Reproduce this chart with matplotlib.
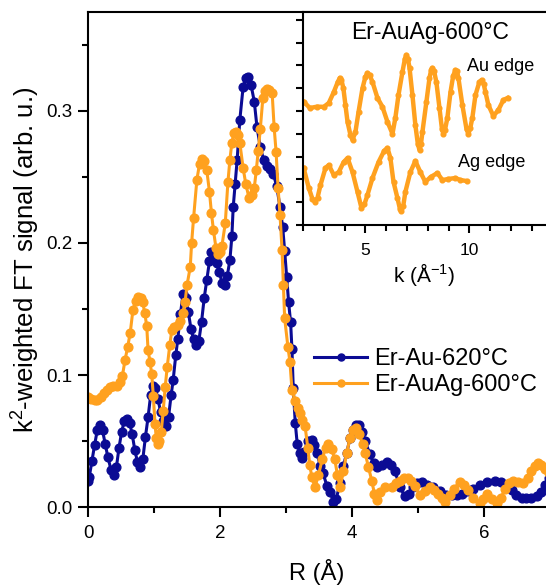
import numpy as np
import matplotlib
matplotlib.use("Agg")
import matplotlib.pyplot as plt
from matplotlib.ticker import MultipleLocator, FormatStrFormatter

plt.rcParams['font.family'] = ['Liberation Sans', 'DejaVu Sans']
plt.rcParams['mathtext.fontset'] = 'custom'
plt.rcParams['mathtext.rm'] = 'Liberation Sans'
plt.rcParams['mathtext.default'] = 'regular'

# FT magnitude, Er-Au-620°C (R in Å, signal in arb. u.)
r_au = [0.00, 0.02, 0.06, 0.10, 0.14, 0.18, 0.22, 0.26, 0.30, 0.35, 0.39, 0.43, 0.47, 0.51,
        0.55, 0.59, 0.63, 0.67, 0.71, 0.75, 0.79, 0.83, 0.87, 0.91, 0.95, 0.98, 1.02, 1.06,
        1.10, 1.14, 1.18, 1.22, 1.26, 1.29, 1.33, 1.36, 1.40, 1.44, 1.48, 1.52, 1.56, 1.60,
        1.64, 1.68, 1.72, 1.76, 1.80, 1.84, 1.87, 1.91, 1.95, 1.99, 2.03, 2.07, 2.11, 2.15,
        2.18, 2.20, 2.23, 2.26, 2.30, 2.35, 2.39, 2.43, 2.47, 2.52, 2.56, 2.61, 2.66, 2.71,
        2.76, 2.81, 2.86, 2.91, 2.95, 2.98, 3.01, 3.04, 3.07, 3.09, 3.11, 3.14, 3.17, 3.21,
        3.24, 3.28, 3.33, 3.39, 3.43, 3.47, 3.52, 3.56, 3.62, 3.67, 3.72, 3.76, 3.82, 3.87,
        3.92, 3.97, 4.02, 4.06, 4.10, 4.15, 4.20, 4.27, 4.33, 4.38, 4.45, 4.53, 4.59, 4.65,
        4.73, 4.80, 4.86, 4.92, 4.99, 5.06, 5.14, 5.23, 5.33, 5.43, 5.51, 5.59, 5.67, 5.74,
        5.84, 5.94, 6.05, 6.17, 6.26, 6.34, 6.42, 6.49, 6.57, 6.64, 6.72, 6.80, 6.86, 6.92,
        6.98]
ft_au = [0.020, 0.023, 0.035, 0.047, 0.058, 0.062, 0.058, 0.048, 0.038, 0.028, 0.024, 0.030,
         0.045, 0.057, 0.065, 0.067, 0.064, 0.055, 0.043, 0.034, 0.030, 0.036, 0.053, 0.068,
         0.085, 0.092, 0.090, 0.082, 0.072, 0.065, 0.061, 0.068, 0.085, 0.096, 0.115, 0.127,
         0.146, 0.161, 0.158, 0.148, 0.135, 0.127, 0.123, 0.126, 0.140, 0.158, 0.172, 0.186,
         0.193, 0.192, 0.185, 0.178, 0.170, 0.168, 0.175, 0.187, 0.205, 0.227, 0.245, 0.263,
         0.293, 0.318, 0.325, 0.326, 0.320, 0.307, 0.288, 0.273, 0.263, 0.258, 0.256, 0.252,
         0.243, 0.227, 0.212, 0.194, 0.174, 0.155, 0.140, 0.120, 0.090, 0.064, 0.048, 0.041,
         0.037, 0.042, 0.050, 0.051, 0.047, 0.041, 0.031, 0.026, 0.016, 0.011, 0.004, 0.006,
         0.018, 0.031, 0.041, 0.052, 0.058, 0.062, 0.062, 0.057, 0.050, 0.040, 0.033, 0.030,
         0.032, 0.034, 0.032, 0.027, 0.015, 0.008, 0.010, 0.015, 0.018, 0.019, 0.017, 0.015,
         0.012, 0.009, 0.009, 0.009, 0.010, 0.012, 0.014, 0.017, 0.019, 0.020, 0.019, 0.017,
         0.013, 0.009, 0.007, 0.007, 0.007, 0.008, 0.011, 0.017, 0.022]

# FT magnitude, Er-AuAg-600°C
r_auag = [0.00, 0.05, 0.10, 0.14, 0.19, 0.24, 0.29, 0.33, 0.38, 0.44, 0.48, 0.52, 0.56, 0.60,
          0.64, 0.68, 0.72, 0.76, 0.80, 0.83, 0.86, 0.89, 0.91, 0.94, 0.965, 0.99, 1.015, 1.035,
          1.056, 1.08, 1.11, 1.14, 1.17, 1.20, 1.24, 1.27, 1.31, 1.36, 1.40, 1.44, 1.47, 1.50,
          1.55, 1.57, 1.60, 1.65, 1.69, 1.72, 1.76, 1.80, 1.84, 1.87, 1.90, 1.94, 1.97, 2.00,
          2.03, 2.08, 2.12, 2.15, 2.18, 2.21, 2.24, 2.27, 2.30, 2.35, 2.39, 2.44, 2.48, 2.52,
          2.55, 2.58, 2.61, 2.65, 2.68, 2.71, 2.75, 2.79, 2.82, 2.85, 2.88, 2.91, 2.94, 2.96,
          2.98, 3.03, 3.06, 3.09, 3.14, 3.18, 3.21, 3.25, 3.29, 3.33, 3.36, 3.39, 3.44, 3.49,
          3.55, 3.60, 3.64, 3.69, 3.74, 3.78, 3.82, 3.87, 3.92, 3.97, 4.02, 4.06, 4.11, 4.16,
          4.20, 4.25, 4.30, 4.34, 4.38, 4.42, 4.50, 4.60, 4.67, 4.73, 4.79, 4.85, 4.90, 4.95,
          5.03, 5.10, 5.18, 5.25, 5.31, 5.36, 5.41, 5.48, 5.54, 5.64, 5.70, 5.76, 5.84, 5.94,
          5.99, 6.04, 6.12, 6.19, 6.26, 6.32, 6.38, 6.44, 6.52, 6.59, 6.66, 6.72, 6.77, 6.82,
          6.87, 6.92, 6.98]
ft_auag = [0.083, 0.082, 0.081, 0.081, 0.083, 0.086, 0.089, 0.091, 0.092, 0.092, 0.095, 0.099,
           0.111, 0.121, 0.132, 0.149, 0.156, 0.159, 0.158, 0.155, 0.147, 0.137, 0.119, 0.110,
           0.101, 0.084, 0.063, 0.052, 0.048, 0.050, 0.057, 0.073, 0.091, 0.106, 0.123, 0.134,
           0.136, 0.138, 0.141, 0.147, 0.155, 0.168, 0.182, 0.200, 0.219, 0.248, 0.260, 0.264,
           0.262, 0.255, 0.239, 0.223, 0.210, 0.196, 0.192, 0.193, 0.198, 0.215, 0.246, 0.263,
           0.276, 0.283, 0.284, 0.282, 0.276, 0.257, 0.245, 0.234, 0.236, 0.242, 0.255, 0.270,
           0.286, 0.310, 0.315, 0.317, 0.316, 0.314, 0.288, 0.269, 0.242, 0.221, 0.195, 0.168,
           0.143, 0.121, 0.110, 0.089, 0.080, 0.075, 0.071, 0.066, 0.061, 0.045, 0.032, 0.023,
           0.015, 0.024, 0.036, 0.045, 0.048, 0.044, 0.036, 0.024, 0.015, 0.027, 0.041, 0.052,
           0.058, 0.060, 0.055, 0.048, 0.041, 0.030, 0.020, 0.010, 0.005, 0.011, 0.015, 0.015,
           0.018, 0.020, 0.022, 0.022, 0.020, 0.016, 0.009, 0.012, 0.015, 0.013, 0.010, 0.007,
           0.004, 0.009, 0.014, 0.019, 0.017, 0.013, 0.007, 0.003, 0.006, 0.010, 0.006, 0.003,
           0.007, 0.014, 0.018, 0.020, 0.019, 0.018, 0.022, 0.027, 0.031, 0.033, 0.032, 0.029,
           0.026]

# inset: k^2 chi(k) of Er-AuAg-600°C, curves offset (arb. units)
k_au_edge = [2.03, 2.33, 2.68, 3.00, 3.24, 3.48, 3.67, 3.77, 3.85, 3.94, 4.04, 4.14, 4.28,
             4.38, 4.52, 4.67, 4.86, 5.00, 5.10, 5.20, 5.34, 5.58, 5.82, 6.06, 6.30, 6.44,
             6.59, 6.78, 6.90, 6.97, 7.04, 7.12, 7.26, 7.40, 7.52, 7.60, 7.67, 7.74, 7.93,
             8.08, 8.16, 8.22, 8.30, 8.41, 8.56, 8.68, 8.75, 8.82, 8.94, 9.09, 9.22, 9.33,
             9.40, 9.47, 9.66, 9.86, 9.95, 10.04, 10.14, 10.29, 10.47, 10.58, 10.68, 10.77,
             10.91, 11.15, 11.39, 11.63, 11.83]
chi_au_edge = [5.41, 5.13, 5.19, 5.18, 5.35, 5.83, 6.27, 6.45, 6.35, 6.00, 5.26, 4.52, 3.95,
               3.73, 4.08, 4.96, 6.00, 6.50, 6.67, 6.58, 6.27, 5.57, 5.18, 4.52, 4.00, 4.70,
               5.70, 6.71, 7.30, 7.46, 7.30, 6.89, 5.70, 4.39, 3.55, 3.29, 3.55, 4.08, 5.39,
               6.45, 6.80, 6.89, 6.75, 6.27, 5.13, 4.20, 4.00, 4.15, 4.70, 5.83, 6.55, 6.80,
               6.75, 6.45, 5.26, 4.20, 4.00, 4.25, 4.70, 5.70, 6.25, 6.36, 6.20, 5.83,
               5.26, 4.78, 5.04, 5.48, 5.57]
k_ag_edge = [2.03, 2.28, 2.45, 2.57, 2.70, 2.84, 3.08, 3.24, 3.48, 3.72, 3.95, 4.14, 4.38,
             4.62, 4.81, 4.95, 5.10, 5.34, 5.63, 5.90, 6.06, 6.20, 6.35, 6.54, 6.66, 6.73,
             6.82, 6.92, 7.16, 7.40, 7.64, 7.88, 8.13, 8.46, 8.70, 8.99, 9.33, 9.57, 9.86]
chi_ag_edge = [2.50, 1.62, 1.15, 1.01, 1.20, 1.75, 2.50, 2.63, 2.19, 2.32, 2.75, 2.94, 2.32,
               1.45, 0.75, 0.90, 1.32, 2.06, 2.76, 3.25, 3.38, 2.94, 1.89, 1.18, 0.70, 0.61,
               0.85, 1.45, 2.32, 2.81, 2.32, 1.89, 2.10, 2.28, 1.97, 2.02, 2.06, 1.97, 1.93]

blue = '#0b0b94'
orange = '#ffa11f'

fig = plt.figure(figsize=(5.46, 5.86), dpi=100)
ax = fig.add_axes([88/546, 79/586, 458/546, 495/586])

ax.plot(r_au, ft_au, '-o', color=blue, lw=2.2, ms=6.3, label='Er-Au-620°C')
ax.plot(r_auag, ft_auag, '-o', color=orange, lw=2.2, ms=6.3, label='Er-AuAg-600°C')

ax.set_xlim(0, 6.94)
ax.set_ylim(0, 0.375)
ax.xaxis.set_major_locator(MultipleLocator(2))
ax.xaxis.set_minor_locator(MultipleLocator(1))
ax.yaxis.set_major_locator(MultipleLocator(0.1))
ax.yaxis.set_minor_locator(MultipleLocator(0.05))
ax.yaxis.set_major_formatter(FormatStrFormatter('%.1f'))
ax.tick_params(which='major', direction='out', length=7, width=1.5, labelsize=13.5, pad=4)
ax.tick_params(axis='x', which='major', pad=6)
ax.tick_params(which='minor', direction='out', length=4, width=1.5)
for s in ['left', 'bottom', 'top']:
    ax.spines[s].set_linewidth(1.5)
ax.spines['right'].set_visible(False)
ax.set_xlabel('R (Å)', fontsize=17, labelpad=12)
ax.set_ylabel('k$^2$-weighted FT signal (arb. u.)', fontsize=18.5, labelpad=3)

leg = ax.legend(loc='center left', bbox_to_anchor=(314/546, (586-372)/586),
                bbox_transform=fig.transFigure, frameon=False, fontsize=17,
                numpoints=1, handlelength=2.25, handletextpad=0.3, labelspacing=0.15,
                borderpad=0, borderaxespad=0, markerscale=0.8)

# inset
axi = fig.add_axes([303/546, (586-225)/586, 243/546, 213/586])
axi.set_facecolor('white')
axi.plot(k_au_edge, chi_au_edge, '-o', color=orange, lw=3.2, ms=3.4, solid_joinstyle='round')
axi.plot(k_ag_edge, chi_ag_edge, '-o', color=orange, lw=3.2, ms=3.4, solid_joinstyle='round')
axi.set_xlim(2, 13.68)
axi.set_ylim(0, 9.34)
axi.xaxis.set_major_locator(MultipleLocator(5))
axi.xaxis.set_minor_locator(MultipleLocator(1))
axi.yaxis.set_major_locator(MultipleLocator(1))
axi.set_yticklabels([])
axi.tick_params(axis='y', which='major', direction='out', length=5, width=1.5, labelleft=False)
axi.tick_params(axis='x', which='major', direction='out', length=6, width=1.5, labelsize=12.5, pad=7)
axi.tick_params(axis='x', which='minor', direction='out', length=4, width=1.5)
for s in ['left', 'bottom', 'top']:
    axi.spines[s].set_linewidth(1.5)
axi.spines['right'].set_visible(False)
axi.set_xlabel('k (Å$^{-1}$)', fontsize=15, labelpad=2)
axi.text(8.13, 8.42, 'Er-AuAg-600°C', fontsize=16.5, ha='center', va='center')
axi.text(9.9, 6.93, 'Au edge', fontsize=13, ha='left', va='center')
axi.text(9.47, 2.76, 'Ag edge', fontsize=13, ha='left', va='center')

fig.savefig('out.png', dpi=100)
